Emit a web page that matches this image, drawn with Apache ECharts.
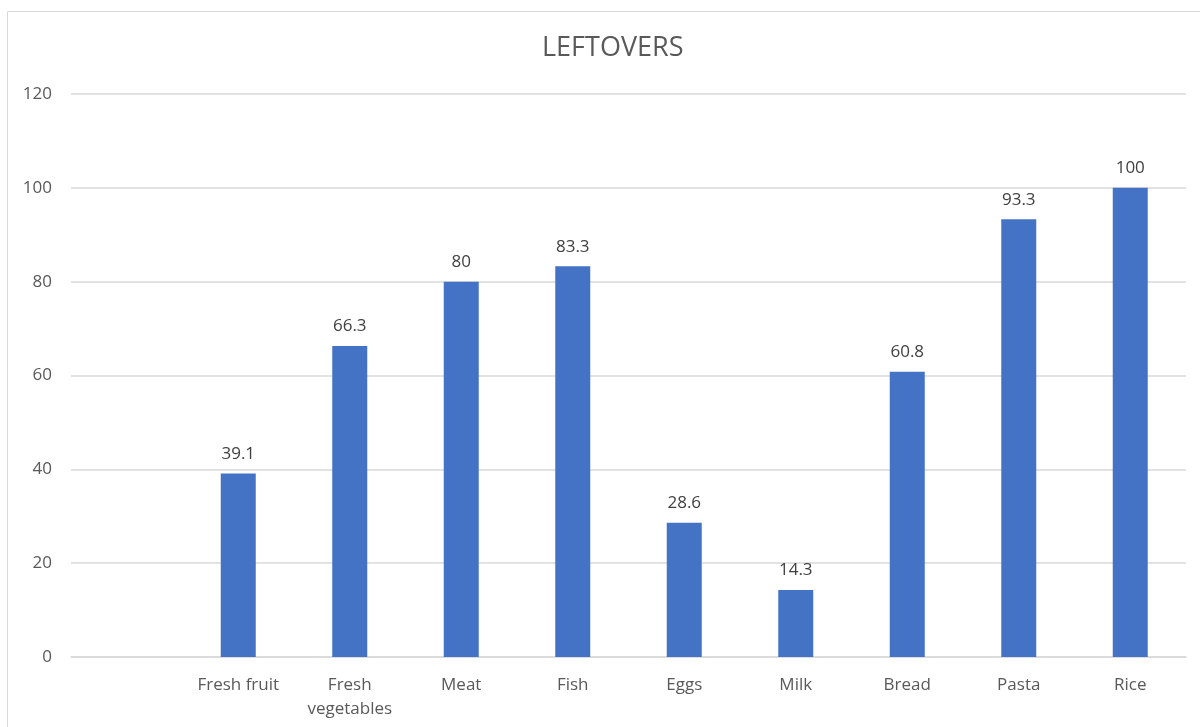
<!DOCTYPE html>
<html>
<head>
<meta charset="utf-8">
<style>
  html, body { margin: 0; padding: 0; background: #ffffff; }
  #chart { width: 1200px; height: 727px; }
</style>
<script src="https://cdn.jsdelivr.net/npm/echarts@6/dist/echarts.min.js"></script>
</head>
<body>
<div id="chart"></div>
<script>
// Leftover shares by food category (first slot intentionally empty)
const categories = ['', 'Fresh fruit', 'Fresh\nvegetables', 'Meat', 'Fish', 'Eggs', 'Milk', 'Bread', 'Pasta', 'Rice'];
const leftovers = [null, 39.1, 66.3, 80, 83.3, 28.6, 14.3, 60.8, 93.3, 100];
const yTicks = [0, 20, 40, 60, 80, 100, 120];

const chart = echarts.init(document.getElementById('chart'), null, { renderer: 'canvas' });
const font = '"Open Sans", "Liberation Sans", sans-serif';

chart.setOption({
  animation: false,
  backgroundColor: '#ffffff',
  title: {
    text: 'LEFTOVERS',
    left: 537,
    top: 30,
    textStyle: { fontFamily: font, fontSize: 27, fontWeight: 'normal', color: '#595959' }
  },
  graphic: [{
    type: 'rect',
    shape: { x: 7.5, y: 11.5, width: 1300, height: 800 },
    style: { fill: 'none', stroke: '#d9d9d9', lineWidth: 1 },
    silent: true
  }],
  grid: { left: 71, right: 14, top: 94, bottom: 70 },
  xAxis: {
    type: 'category',
    data: categories,
    axisLine: { show: true, lineStyle: { color: '#d9d9d9', width: 1.5 } },
    axisTick: { show: false },
    axisLabel: {
      interval: 0,
      margin: 16,
      fontFamily: font,
      fontSize: 17,
      color: '#595959',
      lineHeight: 24
    }
  },
  yAxis: {
    type: 'value',
    min: yTicks[0],
    max: yTicks[yTicks.length - 1],
    interval: yTicks[1] - yTicks[0],
    axisLine: { show: false },
    axisTick: { show: false },
    splitLine: { lineStyle: { color: '#d9d9d9', width: 1.5 } },
    axisLabel: { margin: 19, fontFamily: font, fontSize: 17, color: '#595959' }
  },
  series: [{
    type: 'bar',
    data: leftovers,
    barWidth: 35,
    itemStyle: { color: '#4472C4' },
    label: {
      show: true,
      position: 'top',
      distance: 11,
      fontFamily: font,
      fontSize: 17,
      color: '#404040'
    }
  }]
});
</script>
</body>
</html>
